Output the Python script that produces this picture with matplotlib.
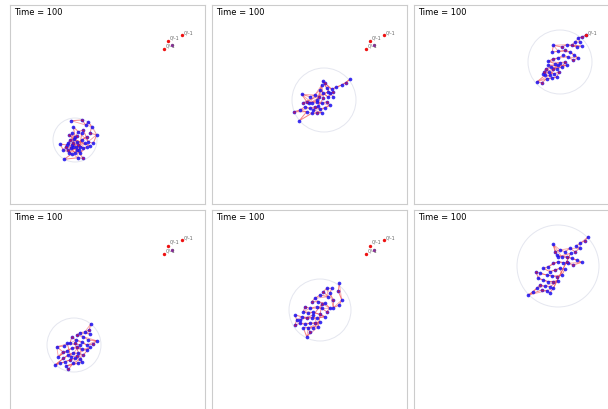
import matplotlib
matplotlib.use("Agg")
import matplotlib.pyplot as plt
from matplotlib.patches import Circle

W, H = 608, 409

# ---- data (panel-local pixel units, y downward) ----
time_label = "Time = 100"
group_label = "0/-1"

p1_pts = [(61,115.7),(72,115),(75.7,120),(78.3,116.7),(81.7,121.7),(80,128.3),(86.7,129.7),
          (83.3,138.3),(78.3,136.7),(73.3,125),(68.3,126.7),(63.3,121.7),(65,131.7),(60,135),
          (56.7,140),(50,139),(53.3,145),(58.3,145),(61.7,149),(54,154.3),(68.3,152.7),(73.3,153.3),
          (66.7,145),(70,141.7),(71.7,135),(76.7,131.7),(63.3,141.7),(61.7,128.3),(66.7,136.7),
          (59.3,130),(73.3,143.3),(76.7,141.7),(70,148.3),(63.3,137.7),(58.3,138.3),(60.7,143.3),
          (65,148.3),(68.3,140),(75,138.3),(80,141),(64,134.3),(67.3,131),(61.7,140),(66,142.3),
          (59.3,147.7),(56,142.3),(69.3,145),(71.7,128.3)]
p2_pts = [(138,74.3),(133.7,77.7),(129.7,80),(124,82.3),(119.7,84.3),(113,78.3),(110.7,76),
          (114.7,83.3),(118,88.3),(121.3,86.7),(116.3,92.3),(111.3,88.3),(108,85),(107.3,91.7),
          (103,90),(98,91.7),(89.7,89.3),(94.7,96.7),(99.7,97.7),(104.7,96.7),(109.7,98.3),
          (114.7,96.7),(118,100),(113,103.3),(108,104.3),(103,101.7),(98,103.3),(93,101.7),
          (88,105),(82,106.7),(94.7,106.7),(87.3,115.7),(99.7,108.3),(104.7,107.7),(109.7,107.7),
          (101.3,105),(106.3,101),(111.3,93.3),(109.7,80),(105.3,95),(97.3,98.3),(91.3,97.7),
          (116.3,86.7),(121.3,91.7)]
p3_pts = [(172,30.3),(168.3,32),(164.3,33),(166,37),(161,37),(157.7,40.3),(162.7,42),(167.7,41),
          (152.7,39.7),(147.7,42),(139.3,40.3),(138.3,47),(144.3,46.3),(151,45.3),(156,47),
          (160.3,50.3),(164.3,53),(159.3,55.3),(154.3,52),(149.3,50.3),(144.3,53),(139.3,53.7),
          (134.3,56.3),(141,58.7),(146,57.7),(151,57),(148.3,62),(142.7,63.7),(137,62),(131.7,63.7),
          (129.3,68.7),(135,67),(140.3,68.7),(145,67),(142.7,72),(137.7,73),(132.7,73.7),
          (127.7,77.7),(122.7,77),(131,70.3),(136,70.3),(139.3,63.7),(144.3,60.3),(134.3,60.3),
          (152.7,60.3),(130.3,67)]
p4_pts = [(80.7,114),(79.3,120),(75,121.7),(80,124),(70,122.7),(66.7,125),(73.3,126.7),(78.3,130),
          (86.7,130.7),(83.3,134),(76.7,135),(71.7,131.7),(66,130),(61.7,127.3),(60,133.3),(54,136),
          (46.7,136.7),(52.7,141.7),(48.3,146.7),(56.7,140.7),(61.7,138.3),(66.7,136.7),(71.7,139.3),
          (76.7,140),(80,137.3),(73.3,145),(68.3,143.3),(63.3,142.7),(58.3,145),(53.3,148.3),
          (45,155),(50,153.3),(55,151.7),(60,150),(65,148.3),(70,149.3),(63.3,153.3),(58.3,159.3),
          (56,156),(68.3,153.3),(71.7,151.7),(65,133.3),(70,135),(57.3,133.3),(60.7,146.7),(66.7,146)]
p5_pts = [(127.3,73.3),(126.3,81),(129.7,90),(127.3,95),(121.3,97.7),(121.3,90),(118,83.3),
          (119.7,78.3),(114.7,78.3),(111.3,81.7),(116.3,86.7),(108,85),(103,88.3),(99.7,91.7),
          (106.3,91.7),(113,93.3),(118,98.3),(114.7,101.7),(109.7,98.3),(104.7,96.7),(98,98.3),
          (93,96.7),(91.3,101.7),(96.3,103.3),(101.3,102.3),(108,104.3),(113,106.7),(104.7,108.3),
          (99.7,107.7),(94.7,108.3),(89.7,106.7),(83,105),(84.7,110),(83,115),(88,113.3),(93,114.3),
          (98,113.3),(103,113.3),(108,111.7),(101.3,117.7),(96.3,118.3),(98,122.3),(94.7,126.7),
          (91.3,117.7),(106.3,116.7),(109.7,94.3),(101.3,105),(88,110)]
p6_pts = [(174.3,26.7),(171,30.7),(166,33.3),(162,36),(166,38.3),(161,41.7),(156,38.3),(151,41.7),
          (146,40),(141,41.7),(139.3,34.3),(142.7,45),(147.7,46.7),(152.7,46.7),(157.7,48.3),
          (162.7,50),(167.7,52.3),(159.3,55),(154.3,53.3),(149.3,52.7),(144.3,51.7),(139.3,53.3),
          (134.3,56.7),(129.3,58.3),(136,61.7),(141,60),(146,58.3),(151,59.3),(147.7,65),
          (142.7,66.7),(137.7,66),(132.7,65),(126,63.3),(122,61.7),(124.3,68.3),(129.3,70),
          (134.3,71.7),(139.3,71.7),(144.3,70.7),(136,76.7),(131,76),(126,75),(122.7,78.3),
          (119.3,81.7),(114.3,85),(127.7,80),(132.7,80.7),(136,82.7),(139.3,78.3),(152.7,51.7),
          (156.7,43.3),(144.3,46.7)]

clusters = [p1_pts, p2_pts, p3_pts, p4_pts, p5_pts, p6_pts]
circle_centers = [(65,135),(112,95),(146,57),(64,135),(108,100),(144,56)]
circle_radii = [22, 32, 32, 27, 31, 41]

group_red = [(172,30),(158,36),(154,44)]
group_purple = [(162,40)]
group_label_pos = [(174,28),(160,32.5),(156,41)]
group_shown = [True, True, False, True, True, False]

# ---- layout ----
col_x = [10, 212, 414]
row_y = [5, 210]
pw, ph = 195, 199

fig = plt.figure(figsize=(W/100, H/100), dpi=100)
for i in range(6):
    r, c = divmod(i, 3)
    x0, y0 = col_x[c], row_y[r]
    w = pw + (2 if c == 2 else 0)
    h = ph + (2 if r == 1 else 0)
    ax = fig.add_axes([x0/W, 1 - (y0 + h)/H, w/W, h/H])
    ax.set_xlim(0, w)
    ax.set_ylim(h, 0)
    ax.set_xticks([]); ax.set_yticks([])
    for s in ax.spines.values():
        s.set_color('#cccccc'); s.set_linewidth(0.8)

    cx, cy = circle_centers[i]
    ax.add_patch(Circle((cx, cy), circle_radii[i], fill=False,
                        edgecolor='#e4e6ef', linewidth=0.7))

    pts = clusters[i]
    xs = [p[0] for p in pts]; ys = [p[1] for p in pts]
    ax.plot(xs, ys, color='#f03030', alpha=0.6, linewidth=0.7, zorder=2)
    ax.plot(xs[::2], ys[::2], color='#f03030', alpha=0.45, linewidth=0.6, zorder=2)
    ax.scatter(xs, ys, s=7, color='#1a0ff0', alpha=0.85, linewidths=0, zorder=4)
    ax.scatter(xs[1::4], ys[1::4], s=3, color='#e01030', alpha=0.7, linewidths=0, zorder=5)

    if group_shown[i]:
        ax.scatter([p[0] for p in group_red], [p[1] for p in group_red], s=6,
                   color='#ee1111', linewidths=0, zorder=5)
        ax.scatter([p[0] for p in group_purple], [p[1] for p in group_purple], s=6,
                   color='#8a2a9a', linewidths=0, zorder=5)
        for (lx, ly) in group_label_pos:
            ax.text(lx, ly, group_label, fontsize=3.6, color='#666666',
                    ha='left', va='center', zorder=6)
    elif i == 2:
        gx, gy = group_red[0]
        ax.scatter([gx], [gy], s=6, color='#ee1111', linewidths=0, zorder=5)
        lx, ly = group_label_pos[0]
        ax.text(lx, ly, group_label, fontsize=3.6, color='#666666',
                ha='left', va='center', zorder=6)

    ax.text(4, 3, time_label, fontsize=6, color='black', ha='left', va='top')

fig.savefig('out.png', dpi=100)
